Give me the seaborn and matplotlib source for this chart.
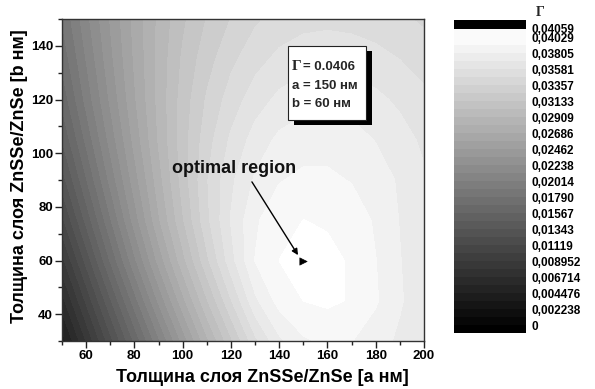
import numpy as np
import matplotlib
matplotlib.use("Agg")
import matplotlib.pyplot as plt
from matplotlib.colors import ListedColormap, BoundaryNorm
from matplotlib.patches import Rectangle
import seaborn as sns

# ---------------- data ----------------
a_nm = [50, 60, 70, 80, 90, 100, 110, 120, 130, 140, 150, 160, 170, 180, 190, 200]
b_nm = [30, 45, 60, 75, 90, 105, 120, 135, 150]

gamma_b30 = [0.0050, 0.0090, 0.0130, 0.0170, 0.0210, 0.0250, 0.0288, 0.0322, 0.0355, 0.0378, 0.0390, 0.0394, 0.0392, 0.0386, 0.0378, 0.0370]
gamma_b45 = [0.0074, 0.0114, 0.0155, 0.0196, 0.0237, 0.0276, 0.0312, 0.0346, 0.0378, 0.0396, 0.0403, 0.0405, 0.0402, 0.0393, 0.0382, 0.0372]
gamma_b60 = [0.0097, 0.0138, 0.0180, 0.0221, 0.0261, 0.0298, 0.0333, 0.0365, 0.0392, 0.0403, 0.0406, 0.0405, 0.0402, 0.0392, 0.0381, 0.0372]
gamma_b75 = [0.0120, 0.0160, 0.0200, 0.0240, 0.0278, 0.0312, 0.0344, 0.0370, 0.0390, 0.0399, 0.0403, 0.0402, 0.0399, 0.0390, 0.0380, 0.0372]
gamma_b90 = [0.0140, 0.0178, 0.0216, 0.0252, 0.0286, 0.0318, 0.0346, 0.0367, 0.0382, 0.0391, 0.0394, 0.0394, 0.0391, 0.0386, 0.0379, 0.0371]
gamma_b105 = [0.0157, 0.0193, 0.0228, 0.0261, 0.0292, 0.0319, 0.0342, 0.0360, 0.0374, 0.0383, 0.0387, 0.0387, 0.0385, 0.0380, 0.0374, 0.0367]
gamma_b120 = [0.0171, 0.0205, 0.0237, 0.0267, 0.0294, 0.0318, 0.0337, 0.0352, 0.0364, 0.0372, 0.0376, 0.0377, 0.0376, 0.0372, 0.0367, 0.0361]
gamma_b135 = [0.0182, 0.0213, 0.0243, 0.0270, 0.0294, 0.0315, 0.0331, 0.0344, 0.0354, 0.0361, 0.0365, 0.0366, 0.0365, 0.0362, 0.0358, 0.0353]
gamma_b150 = [0.0191, 0.0220, 0.0247, 0.0272, 0.0293, 0.0311, 0.0325, 0.0336, 0.0345, 0.0351, 0.0354, 0.0355, 0.0354, 0.0352, 0.0349, 0.0345]

level_values = [0, 0.002238, 0.004476, 0.006714, 0.008952, 0.01119, 0.01343, 0.01567,
                0.01790, 0.02014, 0.02238, 0.02462, 0.02686, 0.02909, 0.03133, 0.03357,
                0.03581, 0.03805, 0.04029]
level_labels = ["0", "0,002238", "0,004476", "0,006714", "0,008952", "0,01119", "0,01343",
                "0,01567", "0,01790", "0,02014", "0,02238", "0,02462", "0,02686", "0,02909",
                "0,03133", "0,03357", "0,03581", "0,03805", "0,04029"]
gamma_max = 0.04059
gamma_max_label = "0,04059"

opt_a, opt_b = 150, 60
box_lines = ["= 0.0406", "a = 150 нм", "b = 60 нм"]

x_label = "Толщина слоя ZnSSe/ZnSe [а нм]"
y_label = "Толщина слоя ZnSSe/ZnSe [b нм]"

# ---------------- style ----------------
sns.set_theme(style="ticks")
plt.rcParams['font.family'] = ['Liberation Sans', 'DejaVu Sans']
plt.rcParams['font.weight'] = 'bold'
plt.rcParams['axes.labelweight'] = 'bold'

W, H = 595, 389
fig = plt.figure(figsize=(W / 100, H / 100), dpi=100)


def rect(l, t, r, b):
    return [l / W, 1 - b / H, (r - l) / W, (b - t) / H]


ax = fig.add_axes(rect(62, 19, 424, 341))

Z = np.array([gamma_b30, gamma_b45, gamma_b60, gamma_b75, gamma_b90,
              gamma_b105, gamma_b120, gamma_b135, gamma_b150])
A, B = np.meshgrid(a_nm, b_nm)

# fill levels: the labelled levels plus the half-steps between them
lv = np.array(level_values)
fine = np.sort(np.concatenate([lv, (lv[:-1] + lv[1:]) / 2]))
bounds = list(fine) + [gamma_max + 0.0002]
nfill = len(bounds) - 1
fill_colors = [str(min(j / (nfill - 1), 1.0)) for j in range(nfill)]
cmap = ListedColormap(fill_colors)
norm = BoundaryNorm(bounds, nfill)
ax.contourf(A, B, Z, levels=bounds, cmap=cmap, norm=norm)

sns.scatterplot(x=[opt_a], y=[opt_b], marker='>', s=28, color='black',
                edgecolor='black', ax=ax, legend=False, zorder=5)

ax.annotate("", xy=(147.8, 62.0), xytext=(128.7, 89.3),
            arrowprops=dict(arrowstyle='-|>', color='black', lw=1.0, mutation_scale=9,
                            shrinkA=0, shrinkB=0), zorder=5)
ax.text(121.4, 94.1, "optimal region", fontsize=13, fontweight='bold',
        ha='center', va='center', color='#111111', zorder=6)

ax.set_xlim(50, 200)
ax.set_ylim(30, 150)
ax.set_xticks(range(60, 201, 20))
ax.set_xticks(range(50, 201, 10), minor=True)
ax.set_yticks(range(40, 141, 20))
ax.set_yticks(range(30, 151, 10), minor=True)
ax.tick_params(which='major', direction='out', length=5, width=1, labelsize=9.5,
               pad=1.5, colors='#222222')
ax.tick_params(which='minor', direction='out', length=3, width=1, colors='#222222')
for lab in ax.get_xticklabels() + ax.get_yticklabels():
    lab.set_fontweight('bold')
    lab.set_color('black')
for sp in ax.spines.values():
    sp.set_visible(True)
    sp.set_linewidth(1.0)
    sp.set_color('#333333')

ax.set_xlabel(x_label, fontsize=13, fontweight='bold', color='black')
ax.set_ylabel(y_label, fontsize=13, fontweight='bold', color='black')
ax.xaxis.set_label_coords((262 - 62) / 362, (341 - 377) / 322)
ax.xaxis.label.set_va('center')
ax.yaxis.set_label_coords((20 - 62) / 362, (341 - 176) / 322)
ax.yaxis.label.set_va('center')

# info box with shadow
shadow = Rectangle((294 / W, 1 - 125 / H), 78 / W, 74 / H, transform=fig.transFigure,
                   facecolor='black', edgecolor='none', zorder=7)
box = Rectangle((288 / W, 1 - 120 / H), 78 / W, 74 / H, transform=fig.transFigure,
                facecolor='white', edgecolor='#222222', lw=0.8, zorder=8)
fig.patches.extend([shadow, box])
fig.text(292 / W, 1 - 67 / H, "Γ", family=['Liberation Serif', 'DejaVu Serif'],
         fontsize=11, fontweight='bold', ha='left', va='center', zorder=9)
fig.text(303 / W, 1 - 67 / H, box_lines[0], fontsize=9.5, fontweight='bold',
         ha='left', va='center', zorder=9)
fig.text(292 / W, 1 - 86 / H, box_lines[1], fontsize=9.5, fontweight='bold',
         ha='left', va='center', zorder=9)
fig.text(292 / W, 1 - 104 / H, box_lines[2], fontsize=9.5, fontweight='bold',
         ha='left', va='center', zorder=9)

# colour scale: 38 sub-bands of 8 px, labels every two sub-bands, black cap on top
cax = fig.add_axes(rect(454, 20, 526, 333))
nsub = 2 * len(level_values)
sub_colors = [str(min(j / (nfill - 1), 1.0) * 0.98) for j in range(nsub)]
cb_cmap = ListedColormap(sub_colors)
top_extra = 9 / 8
cax.pcolormesh([0, 1], np.arange(nsub + 1), np.arange(nsub).reshape(-1, 1),
               cmap=cb_cmap, vmin=-0.5, vmax=nsub - 0.5, shading='flat')
cax.add_patch(Rectangle((0, nsub), 1, top_extra, facecolor='black', edgecolor='none'))
cax.set_xlim(0, 1)
cax.set_ylim(0, nsub + top_extra)
cax.set_xticks([])
for sp in cax.spines.values():
    sp.set_visible(False)
cax.yaxis.tick_right()
ticks = [2 * k + 1 for k in range(len(level_values))] + [nsub + 0.1]
cax.set_yticks(ticks)
cax.set_yticklabels(level_labels + [gamma_max_label])
cax.tick_params(axis='y', length=0, pad=4, labelsize=8.5)
for lab in cax.get_yticklabels():
    lab.set_fontweight('bold')
    lab.set_color('black')
fig.text(540 / W, 1 - 13 / H, "Γ", family=['Liberation Serif', 'DejaVu Serif'],
         fontsize=10, fontweight='bold', ha='center', va='center')

fig.savefig("out.png", dpi=100)
